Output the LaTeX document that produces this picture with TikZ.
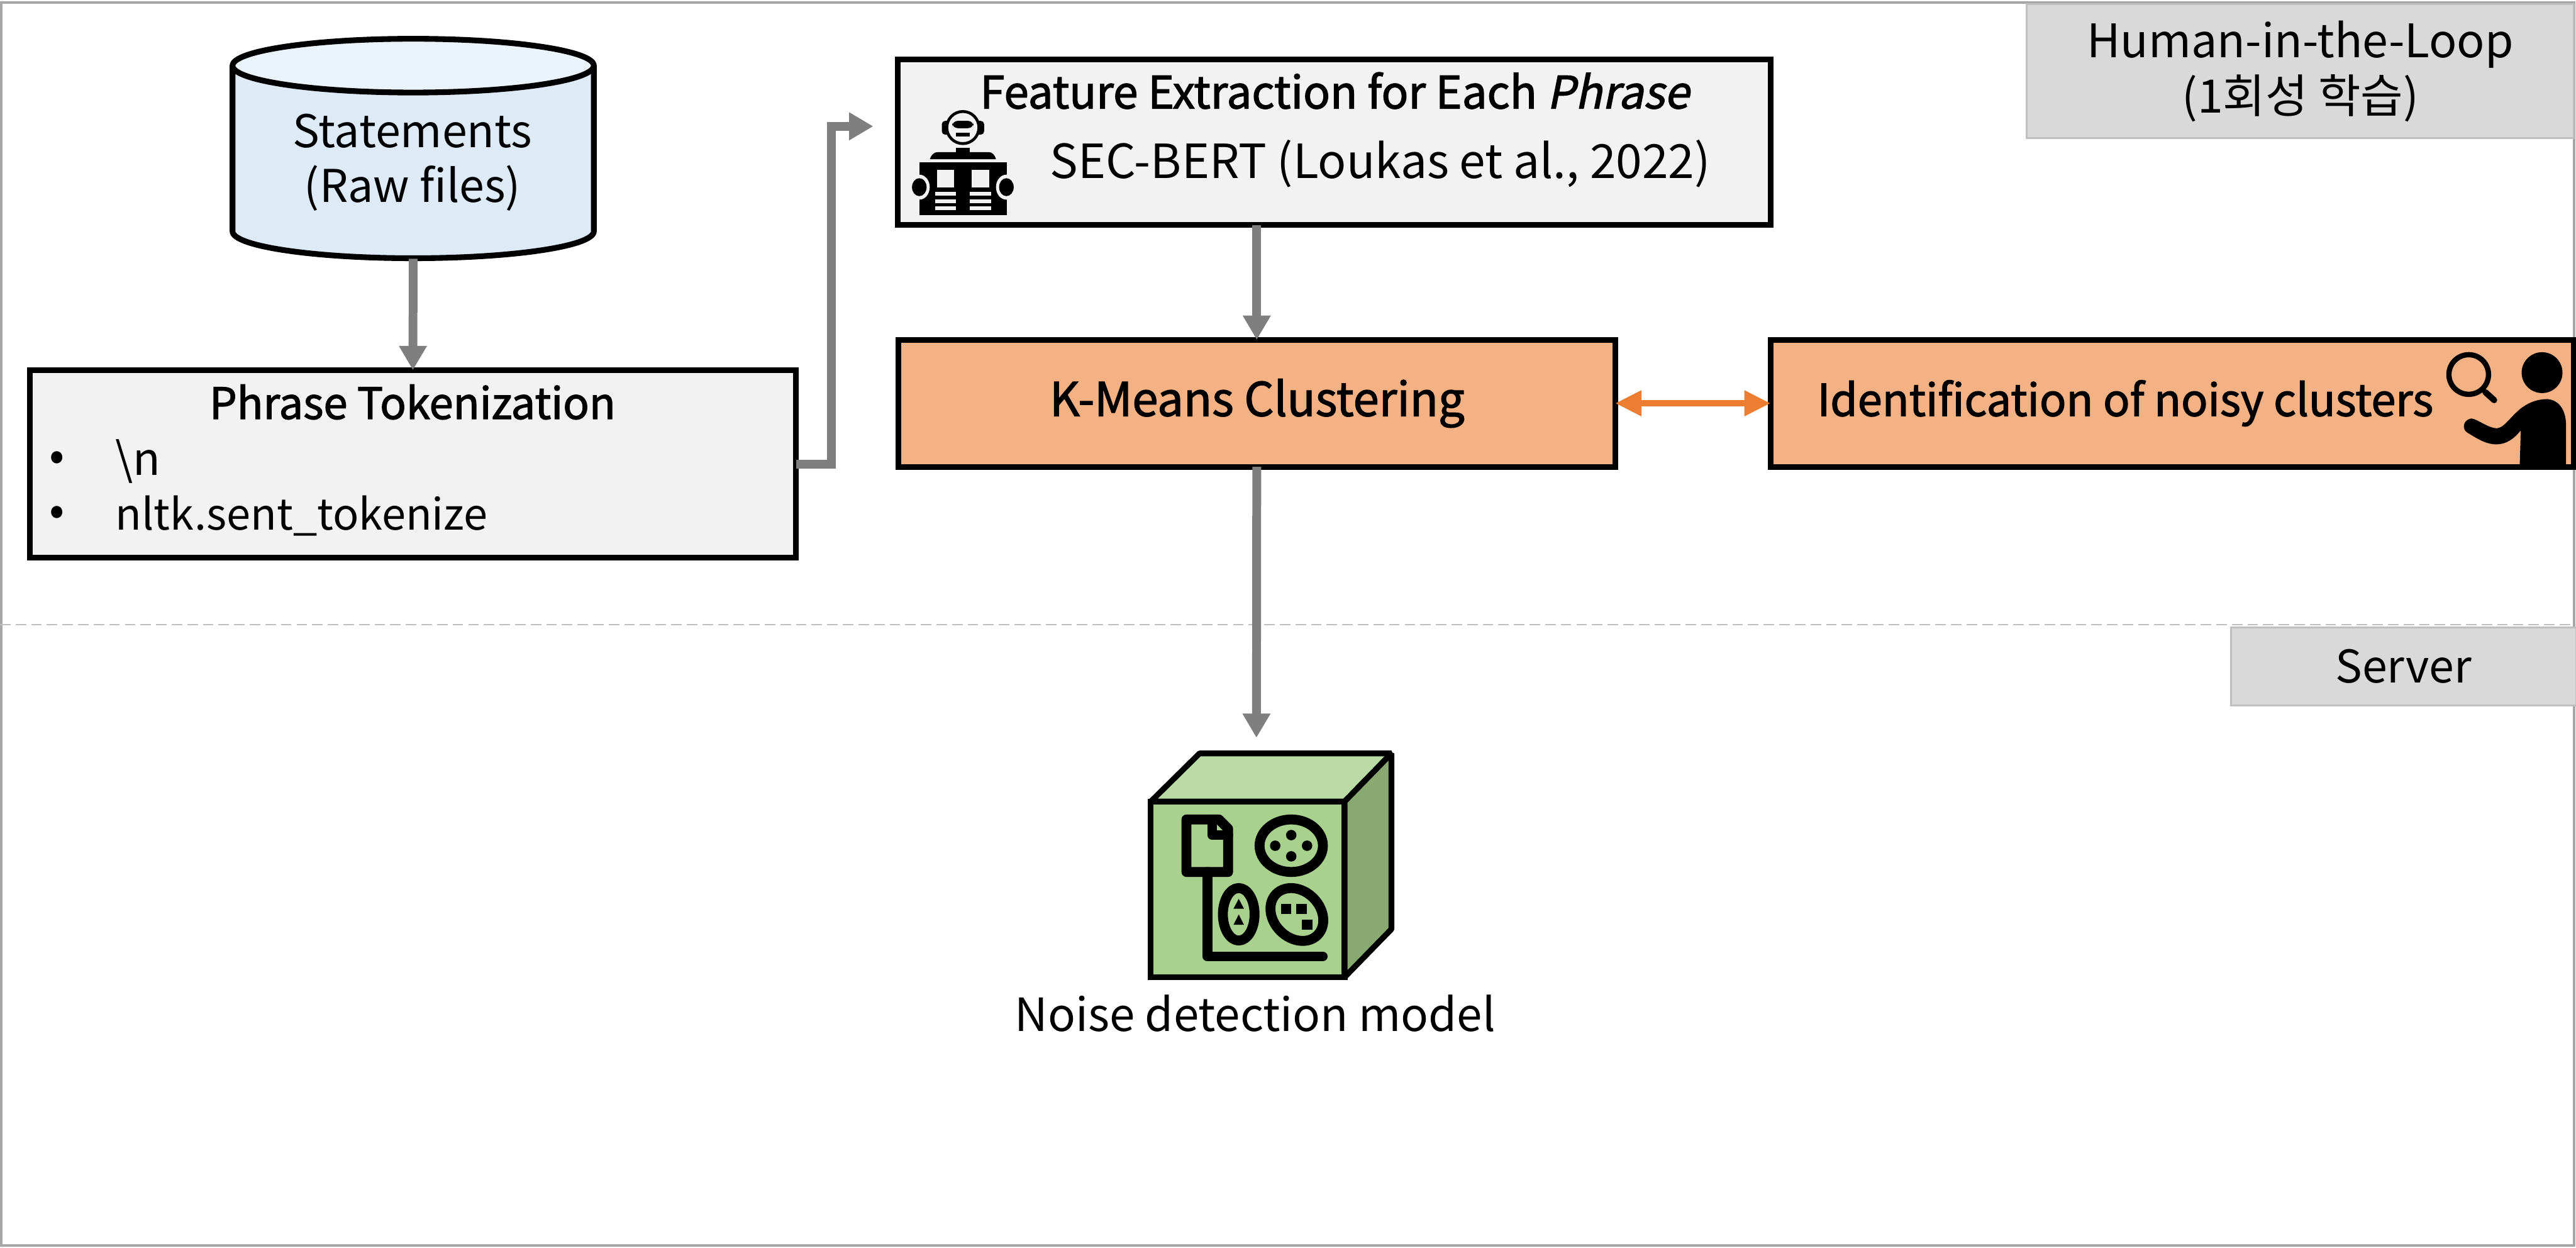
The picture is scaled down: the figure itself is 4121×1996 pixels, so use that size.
\documentclass[tikz,border=0pt]{standalone}
\usepackage{fontspec}
\setmainfont{Noto Sans CJK KR}
\newfontfamily\medfont[FakeBold=1.8]{Noto Sans CJK KR}
\newfontfamily\medslant[FakeBold=1.8,FakeSlant=0.2]{Noto Sans CJK KR}
\usepackage{xcolor}
\usetikzlibrary{arrows.meta}
\definecolor{panelgray}{HTML}{F2F2F2}
\definecolor{tabgray}{HTML}{D9D9D9}
\definecolor{tabedge}{HTML}{BFBFBF}
\definecolor{framegray}{HTML}{A6A6A6}
\definecolor{flowgray}{HTML}{7F7F7F}
\definecolor{clusterorange}{HTML}{F4B183}
\definecolor{linkorange}{HTML}{ED7D31}
\definecolor{drumblue}{HTML}{DEEBF7}
\definecolor{drumtop}{HTML}{EBF3FA}
\definecolor{cubefront}{HTML}{A9D18E}
\definecolor{cubetop}{HTML}{BADBA5}
\definecolor{cubeside}{HTML}{88A972}
\tikzset{
  stepbox/.style={draw=black, line width=2.6pt, rectangle, inner sep=0pt, outer sep=0pt},
  tabbox/.style={draw=tabedge, fill=tabgray, line width=0.9pt, inner sep=0pt, outer sep=0pt, align=center},
  flow/.style={draw=flowgray, line width=4pt, -{Triangle[length=11pt,width=12pt]}},
  txt/.style={font=\fontsize{20.5}{25}\selectfont, inner sep=0pt, align=center},
  boldtxt/.style={font=\fontsize{19.7}{25}\selectfont\medfont, inner sep=0pt, align=center},
  iconline/.style={line width=4.5pt, line join=round, line cap=round}
}
\begin{document}
\begin{tikzpicture}[x=0.01cm,y=-0.01cm]
  \useasboundingbox (0,0) rectangle (4121,1996);
  % outer frame and the split between the two zones
  \draw[framegray, line width=1.3pt] (2,4) rectangle (4118,1992);
  \draw[tabedge, line width=0.7pt, dash pattern=on 4.8pt off 2.3pt] (0,999) -- (4116,999);
  \node[tabbox, minimum width=8.75cm, minimum height=2.14cm, font=\fontsize{21}{25}\selectfont] (hitl) at (3680,114) {Human-in-the-Loop\\(1회성 학습)};
  \node[tabbox, minimum width=5.52cm, minimum height=1.24cm, font=\fontsize{20.5}{22}\selectfont] (server) at (3845,1066) {Server};
  % statements store
  \draw[black, fill=drumblue, line width=2.6pt] (372,105) -- (372,370) arc[start angle=180, end angle=0, x radius=289, y radius=43] -- (950,105);
  \draw[black, fill=drumtop, line width=2.6pt] (661,105) ellipse (289 and 43);
  \node[txt, minimum width=5.78cm, minimum height=3.51cm] (stmts) at (661,237.5) {};
  \node[txt] (stmtslabel) at (660,260) {Statements\\(Raw files)};
  % boxes
  \node[stepbox, fill=panelgray, minimum width=12.25cm, minimum height=3.0cm] (token) at (660.5,742) {};
  \node[stepbox, fill=panelgray, minimum width=13.95cm, minimum height=2.65cm] (feat) at (2134.5,227.5) {};
  \node[stepbox, fill=clusterorange, minimum width=11.46cm, minimum height=2.03cm] (kmeans) at (2010.5,645) {};
  \node[stepbox, fill=clusterorange, minimum width=12.84cm, minimum height=2.03cm] (noisy) at (3475,645) {};
  \node[boldtxt] (tokentitle) at (660,643) {Phrase Tokenization};
  \node[txt, anchor=west] (bulletA) at (78,738) {•};
  \node[txt, anchor=west] (bulletB) at (78,825) {•};
  \node[txt, anchor=west] (splitA) at (184,738) {\textbackslash n};
  \node[txt, anchor=west, font=\fontsize{19.6}{25}\selectfont] (splitB) at (184,825) {nltk.sent\_tokenize};
  \node[boldtxt, font=\fontsize{20.3}{25}\selectfont\medfont] (feattitle) at (2135,145) {Feature Extraction for Each {\medslant Phrase}};
  \node[txt, font=\fontsize{21.4}{25}\selectfont] (featmodel) at (2208,262) {SEC-BERT (Loukas et al., 2022)};
  \node[boldtxt, font=\fontsize{21.2}{25}\selectfont\medfont] (kmeanslabel) at (2011,645) {K-Means Clustering};
  \node[boldtxt, font=\fontsize{20.1}{25}\selectfont\medfont] (noisylabel) at (3400,645) {Identification of noisy clusters};
  % connectors
  \coordinate (featin) at (1397,202);
  \coordinate (cubein) at (2010,1180);
  \draw[flow] (stmts.south) -- (token.north);
  \draw[flow] (token.east) -- ++(57,0) |- (featin);
  \draw[flow] (kmeans.north |- feat.south) -- (kmeans.north);
  \draw[flow] (kmeans.south) -- (cubein);
  \draw[linkorange, line width=3pt, {Triangle[length=12pt,width=11pt]}-{Triangle[length=12pt,width=11pt]}] (kmeans.east) -- (noisy.west);
  % robot reading a book
  \begin{scope}[shift={(1400,60)},scale=1/3]
    \fill[black, rounded corners=1.5pt] (320,400) rectangle (523,466);
    \draw[black, fill=panelgray, line width=1.3pt] (421,432) circle (77);
    \fill[black, rounded corners=2.5pt] (370,400) rectangle (472,435);
    \fill[black] (388,458) rectangle (455,475);
    \fill[black] (388,528) rectangle (455,552);
    \fill[black] (263,584) .. controls (270,560) and (285,550) .. (300,550) -- (545,550) .. controls (560,550) and (573,560) .. (580,584) -- cycle;
    \fill[black] (212,600) rectangle (632,852);
    \fill[panelgray] (296,634) rectangle (380,718);
    \fill[panelgray] (463,634) rectangle (548,718);
    \foreach \rowy in {742,776,810} {
      \fill[panelgray] (287,\rowy) rectangle (388,\rowy+18);
      \fill[panelgray] (455,\rowy) rectangle (556,\rowy+18);
    }
    \foreach \handx in {212,630} {
      \fill[panelgray] (\handx,718) ellipse (50 and 60);
      \fill[black] (\handx,718) ellipse (35 and 43);
    }
  \end{scope}
  % person with magnifier
  \begin{scope}[shift={(3750,520)},scale=1/3]
    \draw[black, line width=2.4pt] (598,237) circle (95);
    \draw[black, line width=2.8pt, line cap=round] (678,322) -- (720,360);
    \fill[black] (950,228) circle (98);
    \fill[black] (843,668) -- (848,505) .. controls (815,545) and (780,572) .. (730,572) .. controls (680,572) and (640,545) .. (590,515)
      .. controls (565,498) and (570,455) .. (610,448) .. controls (640,450) and (690,495) .. (735,495)
      .. controls (775,490) and (810,420) .. (870,385) .. controls (910,360) and (950,355) .. (975,355)
      .. controls (1040,360) and (1065,420) .. (1065,480) -- (1065,668) -- cycle;
  \end{scope}
  % model cube
  \draw[black, fill=cubefront, line width=2.6pt] (1841,1282) rectangle (2151,1563);
  \draw[black, fill=cubetop, line width=2.6pt, line join=bevel] (1841,1282) -- (1919,1205) -- (2226,1205) -- (2151,1282) -- cycle;
  \draw[black, fill=cubeside, line width=2.6pt, line join=bevel] (2151,1282) -- (2226,1205) -- (2226,1486) -- (2151,1563) -- cycle;
  \begin{scope}[shift={(1800,1180)},scale=1/3]
    \draw[iconline] (294,392) -- (450,392) -- (494,436) -- (494,644) -- (294,644) -- cycle;
    \draw[iconline] (418,392) -- (418,467) -- (494,467);
    \draw[iconline] (394,644) -- (394,1049) -- (948,1049);
    \draw[iconline] (797,518) ellipse (152 and 126);
    \draw[iconline] (545,847) ellipse (76 and 126);
    \draw[iconline, rotate around={-45:(824,848)}] (824,848) ellipse (140 and 112);
    \foreach \dotx/\doty in {797/467,720/518,873/518,797/569} {
      \fill[black] (\dotx,\doty) circle (25);
    }
    \fill[black] (545,773) -- (570,820) -- (520,820) -- cycle;
    \fill[black] (545,848) -- (570,897) -- (520,897) -- cycle;
    \fill[black] (747,797) rectangle (797,847);
    \fill[black] (822,797) rectangle (872,847);
    \fill[black] (848,872) rectangle (898,922);
  \end{scope}
  \node[txt, font=\fontsize{20.8}{25}\selectfont] (modellabel) at (2008,1621) {Noise detection model};
\end{tikzpicture}
\end{document}
